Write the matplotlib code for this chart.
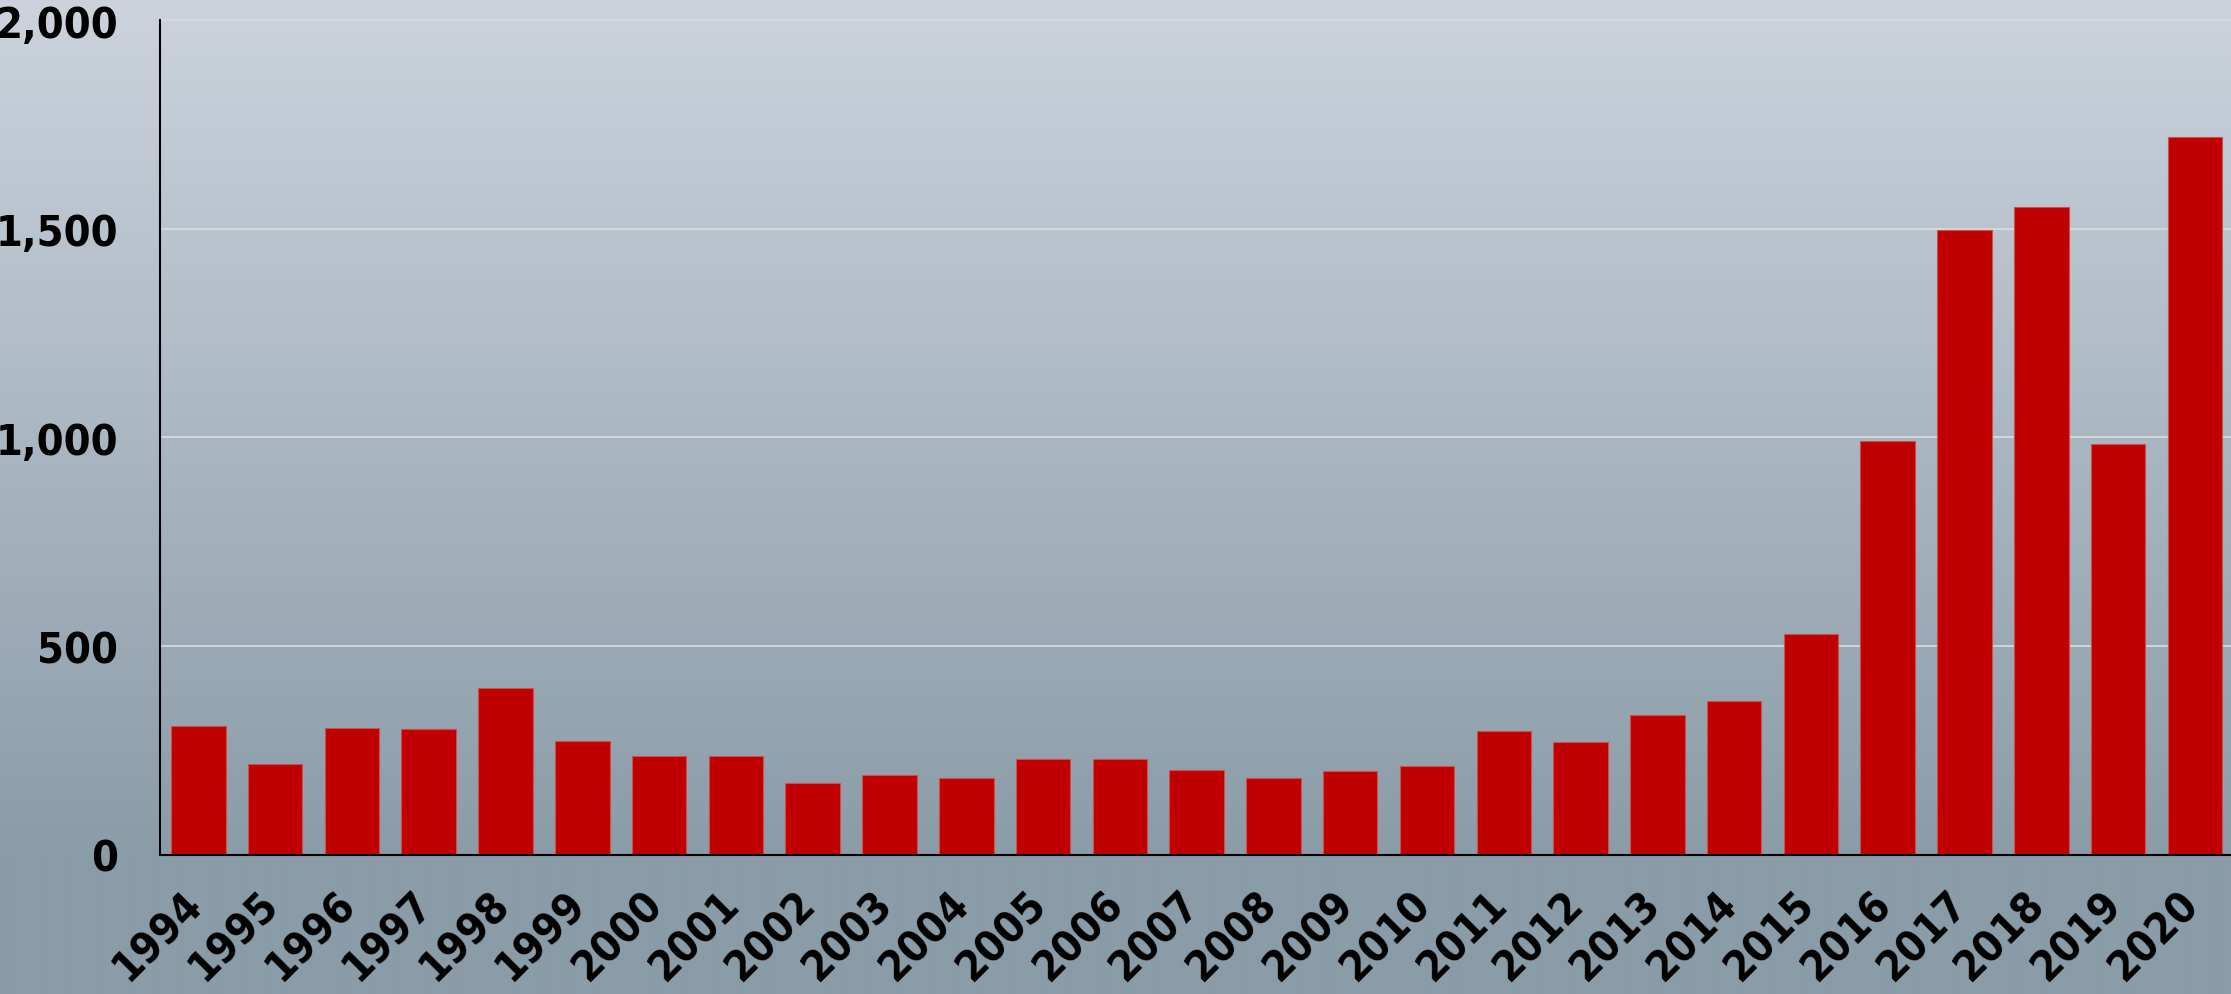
import matplotlib
matplotlib.use("Agg")
import matplotlib.pyplot as plt
import matplotlib.transforms as mtransforms
import numpy as np

years = [str(y) for y in range(1994, 2021)]
values = [308, 217, 302, 301, 400, 272, 236, 236, 172, 190, 183, 229, 228, 202,
          183, 201, 212, 295, 270, 334, 369, 529, 992, 1497, 1552, 985, 1719]
y_ticks = [0, 500, 1000, 1500, 2000]
y_labels = ["0", "500", "1,000", "1,500", "2,000"]

W, H = 2231, 995
fig = plt.figure(figsize=(W / 100, H / 100), dpi=100)

# background gradient (light at top, dark grey-blue toward the baseline)
top = np.array([0xcc, 0xd3, 0xdd]) / 255
bot = np.array([0x8a, 0x9c, 0xa8]) / 255
rows = np.clip(np.arange(H) / 858.0, 0, 1)
grad = top[None, :] * (1 - rows[:, None]) + bot[None, :] * rows[:, None]
grad = np.repeat(grad[:, None, :], 4, axis=1)
bg = fig.add_axes([0, 0, 1, 1], zorder=0)
bg.imshow(grad, aspect="auto", extent=[0, 1, 0, 1], interpolation="bilinear")
bg.axis("off")

ylim_top = 2010
px_per = (855.5 - 21) / 2000
ax_left = 160 / W
ax_bottom = 1 - 855.5 / H
ax_height = (ylim_top * px_per) / H
ax = fig.add_axes([ax_left, ax_bottom, 1 - ax_left + 0.001, ax_height], zorder=1)
ax.patch.set_alpha(0)

x = np.arange(len(years))
ax.bar(x, values, width=0.71, color="#c00000", edgecolor="#cc5050", linewidth=0.8, zorder=3)

ax.set_xlim(-0.5, len(years) - 0.5)
ax.set_ylim(0, ylim_top)
ax.set_yticks(y_ticks)
ax.set_yticklabels(y_labels)
ax.set_xticks(x)
ax.set_xticklabels(years, rotation=45, ha="right", va="top")

ax.yaxis.grid(True, color="#dcdcdc", linewidth=1.2, zorder=1)
ax.set_axisbelow(True)

for s in ["top", "right"]:
    ax.spines[s].set_visible(False)
ax.spines["left"].set_bounds(0, 2000)
ax.spines["left"].set_linewidth(1.5)
ax.spines["bottom"].set_linewidth(1.5)
ax.spines["left"].set_zorder(4)
ax.spines["bottom"].set_zorder(4)

ax.tick_params(axis="y", length=0, pad=30, labelsize=31)
ax.tick_params(axis="x", length=0, pad=20, labelsize=31)
for lab in ax.get_yticklabels() + ax.get_xticklabels():
    lab.set_fontweight("bold")
    lab.set_fontstretch("condensed")
    lab.set_color("black")

offset = mtransforms.ScaledTranslation(12 / 100, 0, fig.dpi_scale_trans)
for lab in ax.get_xticklabels():
    lab.set_transform(lab.get_transform() + offset)

fig.savefig("out.png", dpi=100)
